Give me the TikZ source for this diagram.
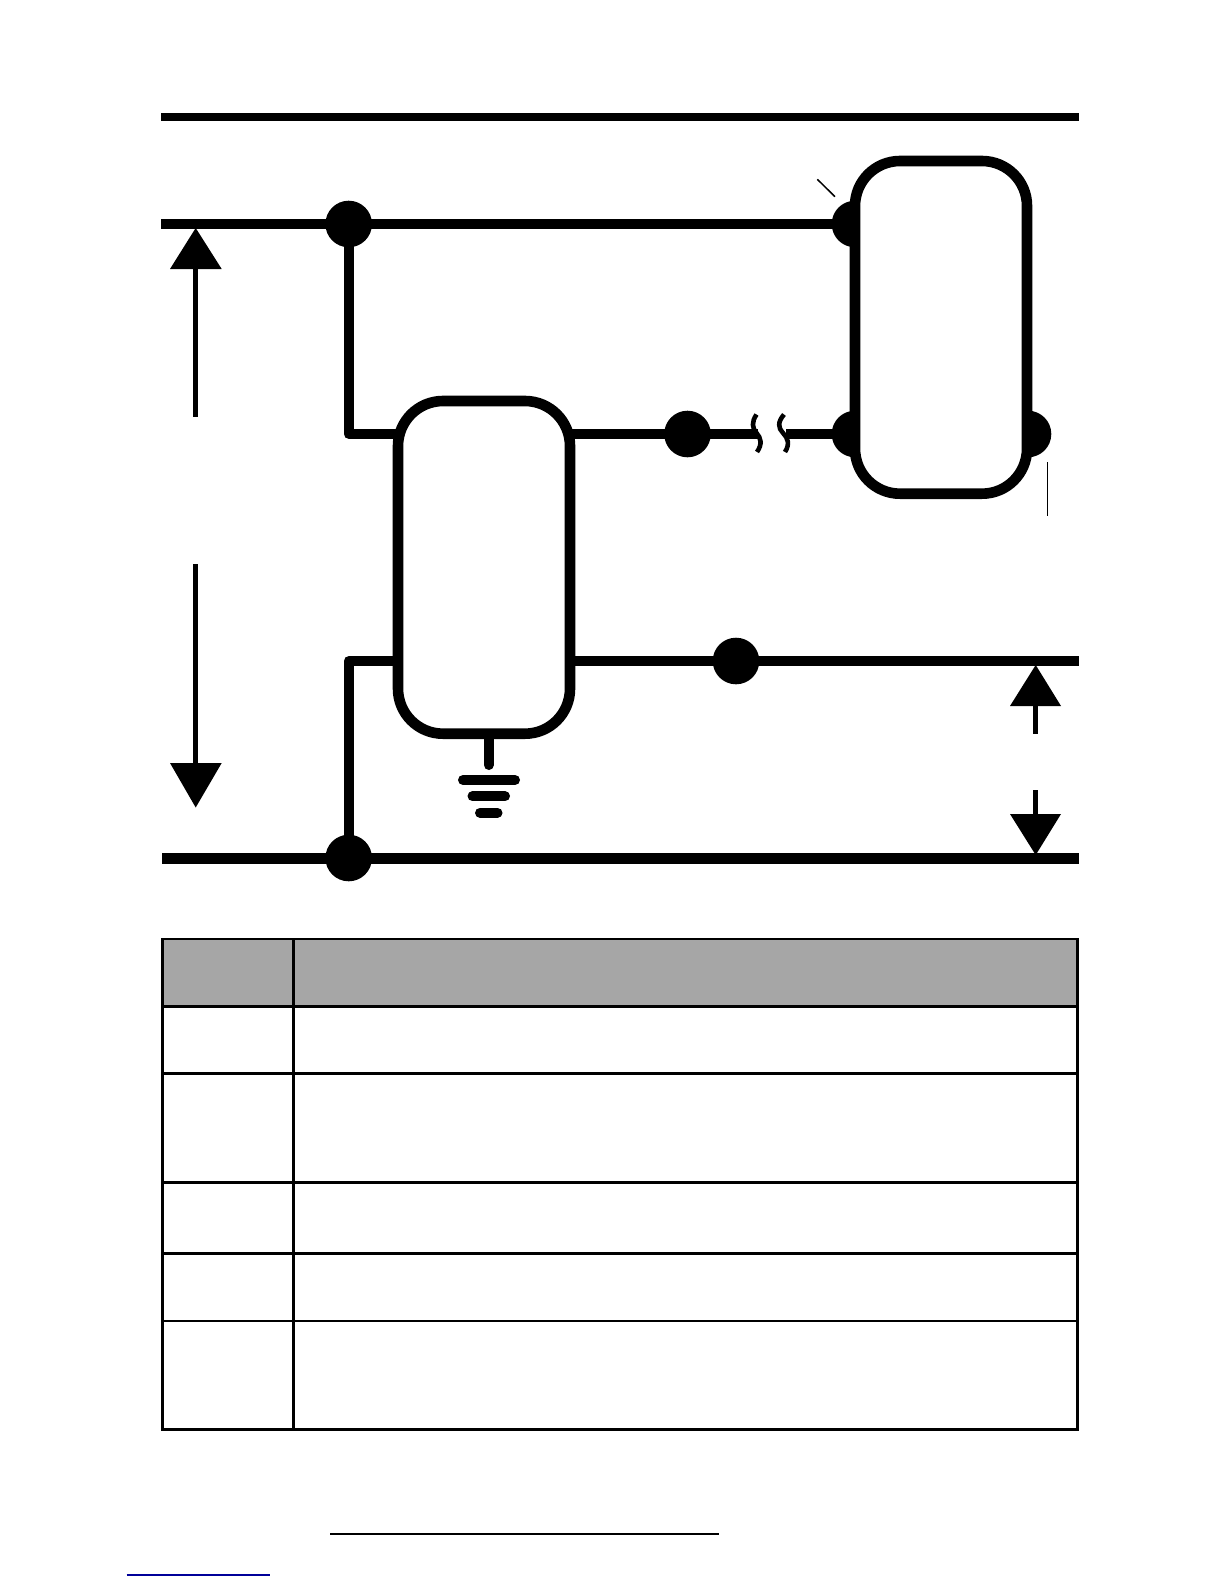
\documentclass[tikz,border=0pt]{standalone}
\usetikzlibrary{calc}
\definecolor{headgray}{HTML}{A6A6A6}
\definecolor{linkblue}{HTML}{000099}
\tikzset{
  wire/.style={draw=black,line width=5pt,line join=round},
  bus/.style={draw=black,line width=5.5pt},
  topbar/.style={draw=black,line width=4pt},
  junction/.style={circle,fill=black,draw=none,minimum size=23.3pt,inner sep=0pt,outer sep=0pt},
  block/.style={draw=black,fill=white,line width=5.3pt,rounded corners=22.5pt,minimum width=86pt,minimum height=166.35pt,inner sep=0pt,outer sep=0pt},
  shaft/.style={draw=black,line width=2.6pt},
  head/.style={fill=black,draw=none},
  gnd/.style={draw=black,line width=5pt,line cap=round},
  breakmark/.style={draw=black,line width=2.3pt,line cap=butt},
  tick/.style={draw=black,line width=.75pt},
}
\begin{document}
\begin{tikzpicture}[x=0.5pt,y=-0.5pt]
\useasboundingbox (0,0) rectangle (1224,1584);
% named points
\coordinate (topL) at (161,117);
\coordinate (topR) at (1079,117);
\coordinate (a0) at (161,224);
\coordinate (c0) at (162,858);
\coordinate (c1) at (1079,858);
\coordinate (o1) at (1079,661);
\coordinate (brk1) at (757.5,434);
\coordinate (brk2) at (786,434);
\coordinate (bendU) at (348.7,434);
\coordinate (bendL) at (348.7,661);
\coordinate (gndTop) at (488.7,735);
\coordinate (gndEnd) at (488.7,765);
% junctions
\node[junction] (j1) at (348.7,224) {};
\node[junction] (j2) at (348.7,858) {};
\node[junction] (j3) at (687.5,434) {};
\node[junction] (j4) at (736,661) {};
\node[junction] (p1) at (855,224) {};
\node[junction] (p2) at (855,434) {};
\node[junction] (p3) at (1028,434) {};
% blocks are drawn after the wires, so that the wires run under them
\coordinate (lboxU) at (484,434);
\coordinate (lboxL) at (484,661);
% wires
\draw[topbar] (topL) -- (topR);
\draw[wire] (a0) -- (j1.center);
\draw[wire] (j1.center) -- (p1.center);
\draw[wire] (j1.center) -- (bendU) -- (lboxU);
\draw[wire] (j2.center) -- (bendL) -- (lboxL);
\draw[bus] (c0) -- (j2.center);
\draw[bus] (j2.center) -- (c1);
\draw[wire] (lboxU) -- (j3.center);
\draw[wire] (lboxL) -- (j4.center);
\draw[wire] (j4.center) -- (o1);
\draw[wire] (j3.center) -- (brk1);
\draw[wire] (brk2) -- (p2.center);
\draw[breakmark] (756.5,414.5) .. controls (751.5,422) and (752,428) .. (756.5,433)
     .. controls (761,438) and (762.5,444) .. (757,452);
\draw[breakmark] (784,414.5) .. controls (777.5,422) and (778,428) .. (783,433)
     .. controls (788,438) and (790,444) .. (785,452);
% blocks
\node[block] (rbox) at (941,327.35) {};
\node[block] (lbox) at (484,567.35) {};
% ground
\draw[gnd] (gndTop) -- (gndEnd);
\coordinate (g1a) at (463,780); \coordinate (g1b) at (515,780);
\coordinate (g2a) at (472.5,796.3); \coordinate (g2b) at (505,796.3);
\coordinate (g3a) at (480,812.7); \coordinate (g3b) at (497.5,812.7);
\draw[gnd] (g1a) -- (g1b);
\draw[gnd] (g2a) -- (g2b);
\draw[gnd] (g3a) -- (g3b);
% arrows
\coordinate (s1a) at (195.5,269); \coordinate (s1b) at (195.5,416.7);
\draw[shaft] (s1a) -- (s1b);
\fill[head] (195.7,228) -- (221.7,269) -- (170,269) -- cycle;
\coordinate (s2a) at (195.5,564); \coordinate (s2b) at (195.5,763);
\draw[shaft] (s2a) -- (s2b);
\fill[head] (195.7,807.5) -- (221.7,763) -- (170,763) -- cycle;
\coordinate (s3a) at (1035.7,706); \coordinate (s3b) at (1035.7,734);
\draw[shaft] (s3a) -- (s3b);
\fill[head] (1035.7,665) -- (1061,706) -- (1010,706) -- cycle;
\coordinate (s4a) at (1035.7,790); \coordinate (s4b) at (1035.7,814);
\draw[shaft] (s4a) -- (s4b);
\fill[head] (1035.7,855) -- (1061,814) -- (1010,814) -- cycle;
% thin ticks
\coordinate (t1a) at (817.3,179.3); \coordinate (t1b) at (835,196.7);
\draw[tick] (t1a) -- (t1b);
\coordinate (t2a) at (1047.3,462); \coordinate (t2b) at (1047.3,516);
\draw[tick] (t2a) -- (t2b);
% table
\fill[headgray] (162.5,939) rectangle (1077.5,1006.4);
\foreach \ry/\rw in {939/1.2,1006.4/1.5,1073.5/1.6,1182.5/1.5,1253.2/1.5,1321/1,1429.5/1.2}{
  \draw[draw=black,line width=\rw pt] (161,\ry) -- (1079,\ry);
}
\foreach \cx/\cw in {162.5/1.5,293.7/1.7,1077.5/1.5}{
  \draw[draw=black,line width=\cw pt] (\cx,938.4) -- (\cx,1430.1);
}
% bottom rules
\coordinate (r1a) at (330,1534); \coordinate (r1b) at (718.5,1534);
\draw[draw=black,line width=1.1pt] (r1a) -- (r1b);
\coordinate (r2a) at (126.5,1575); \coordinate (r2b) at (270,1575);
\draw[draw=linkblue,line width=.8pt] (r2a) -- (r2b);
\end{tikzpicture}
\end{document}
